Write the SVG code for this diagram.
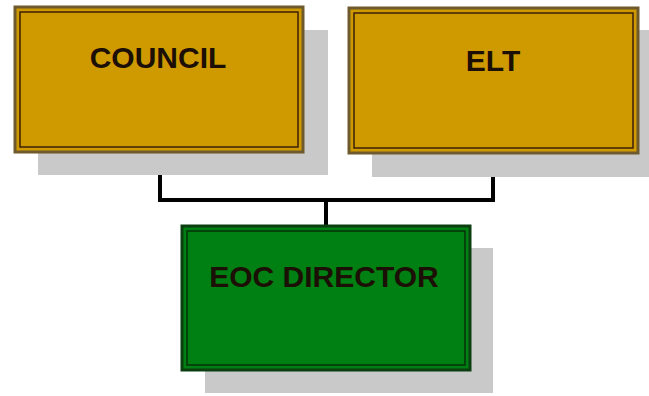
<svg xmlns="http://www.w3.org/2000/svg" width="649" height="396" viewBox="0 0 649 396">
<style>
.shadow{fill:#c9c9c9}
.gold{fill:#cf9a00;stroke:#6e5a2c;stroke-width:3}
.goldin{fill:none;stroke:#3c1f0a;stroke-width:1.5}
.green{fill:#007f12;stroke:#0b3f10;stroke-width:3}
.greenin{fill:none;stroke:#063008;stroke-width:1.5}
.lbl{font-family:"Liberation Sans",Arial,sans-serif;font-weight:bold;font-size:30px;fill:#1c0f05;text-anchor:middle}
.conn{fill:none;stroke:#000;stroke-width:4}
</style>
<rect width="649" height="396" fill="#fff"/>
<g id="connectors">
<polyline class="conn" points="160,152 160,200 493,200 493,153"/>
<line class="conn" x1="326" y1="200" x2="326" y2="226"/>
</g>
<g id="council">
<rect class="shadow" x="38" y="30" width="290" height="145"/>
<rect class="gold" x="15" y="7" width="288" height="145"/>
<rect class="goldin" x="20" y="12" width="278" height="135"/>
<text class="lbl" x="158" y="68">COUNCIL</text>
</g>
<g id="elt">
<rect class="shadow" x="372" y="30" width="277" height="147"/>
<rect class="gold" x="349" y="8" width="289" height="145"/>
<rect class="goldin" x="354" y="13" width="279" height="135"/>
<text class="lbl" x="493" y="71">ELT</text>
</g>
<g id="eoc">
<rect class="shadow" x="205" y="248" width="288" height="145"/>
<rect class="green" x="182" y="226" width="288" height="144"/>
<rect class="greenin" x="187" y="231" width="278" height="134"/>
<text class="lbl" x="324" y="287">EOC DIRECTOR</text>
</g>
</svg>
